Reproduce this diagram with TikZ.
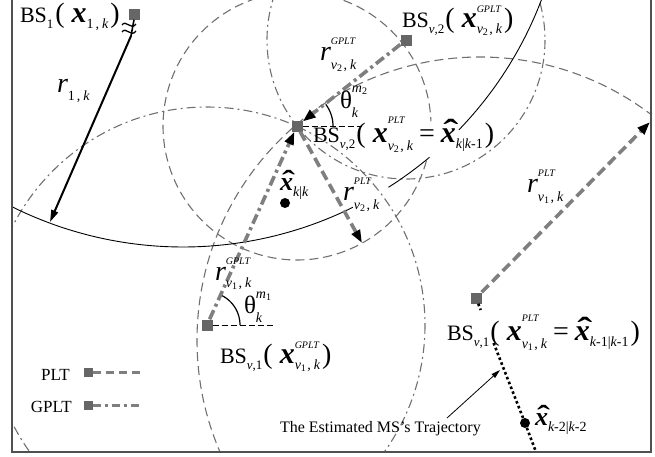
\documentclass[tikz,border=0pt]{standalone}
\usepackage{amsmath}
\usepackage{fontspec}
\setmainfont{Liberation Serif}
\usetikzlibrary{arrows.meta,calc}
\definecolor{sqgray}{HTML}{666666}
\definecolor{cgray}{HTML}{707070}
\definecolor{tgray}{HTML}{7F7F7F}
\definecolor{fgray}{HTML}{505050}
\newcommand\Fmain{\fontsize{22}{24}\selectfont}
\newcommand\Fbig{\fontsize{28}{30}\selectfont}
\newcommand\Frr{\fontsize{28}{30}\selectfont}
\newcommand\Fsup{\fontsize{10}{11}\selectfont\itshape}
\newcommand\Fsub{\fontsize{14}{15}\selectfont}
\newcommand\Fss{\fontsize{10}{10}\selectfont}
\newcommand\Fbs{\fontsize{13}{13}\selectfont}
\newcommand\BX{{\fontsize{30}{32}\selectfont\bfseries\itshape x}}
\newcommand\HXs[1]{{\fontsize{#1}{#1}\selectfont\rlap{\kern0.08em\scalebox{1.5}[1.1]{\bfseries ˆ}}\bfseries\itshape x}}
\newcommand\LP{{\Fbig(}\hspace{7pt}}
\newcommand\RP{\hspace{2pt}{\Fbig)}}
\newcommand\EQ{\hspace{6pt}{\Fbig=}\hspace{6pt}}
\newcommand\VK[1]{{\itshape v}\lower2.5pt\hbox{\Fss #1}\hspace{1.5pt},\hspace{3pt}{\itshape k}}
\newcommand\SupSub[4]{\leavevmode\setbox0=\hbox{#2}\setbox2=\hbox{#4}%
  \dimen0=\wd0 \ifdim\wd2>\dimen0 \dimen0=\wd2 \fi
  \rlap{\raise#1\box0}\rlap{\lower#3\box2}\kern\dimen0\relax}
\newcommand\BSsub[1]{BS\lower6pt\hbox{\Fbs\itshape v\upshape,#1}\hspace{1pt}}
\newcommand\KK[1]{\lower6pt\hbox{\Fsub #1}}
\begin{document}
\begin{tikzpicture}[x=1pt,y=-1pt,
  sq/.style={rectangle,fill=sqgray,draw=none,minimum size=11pt,inner sep=0pt},
  dotn/.style={circle,fill=black,minimum size=10pt,inner sep=0pt},
  thindash/.style={draw=cgray,line width=1.1pt,dash pattern=on 9pt off 5pt},
  thindashdot/.style={draw=cgray,line width=1.1pt,dash pattern=on 9pt off 4pt on 2pt off 4pt},
  solidarc/.style={draw=black,line width=0.9pt},
  thickdash/.style={draw=tgray,line width=3.6pt,dash pattern=on 10pt off 5pt},
  thickdashdot/.style={draw=tgray,line width=3.6pt,dash pattern=on 10pt off 4pt on 3pt off 4pt},
  tipA/.style={-{Triangle[length=13pt,width=9pt,color=black]}},
  refline/.style={draw=black,line width=0.8pt,dash pattern=on 6pt off 3pt},
  anglearc/.style={draw=black,line width=1.2pt},
  lbl/.style={anchor=base west,inner sep=0pt,outer sep=0pt},
  traj/.style={draw=black,line width=2.6pt,dash pattern=on 2.6pt off 2.6pt},
  frame/.style={draw=fgray,line width=1.5pt},
  legdash/.style={draw=tgray,line width=3pt,dash pattern=on 8pt off 5pt},
  legdashdot/.style={draw=tgray,line width=3pt,dash pattern=on 8pt off 4pt on 3pt off 4pt},
]
\useasboundingbox (0,0) rectangle (655,456);
% range circles
\begin{scope}
\clip (12,0) rectangle (651,452);
\draw[thindash] plot[domain=15:358,samples=160] ({297+134*cos(\x)},{126+134*sin(\x)});
\draw[thindash] (480,340) circle[radius=283];
\draw[thindashdot] (406,40) circle[radius=139];
\draw[thindashdot] (207,325) circle[radius=218];
\draw[solidarc] plot[domain=15:44,samples=40] ({183+383.5*cos(\x)},{-136.5+383.5*sin(\x)});
\draw[solidarc] plot[domain=50:57.6,samples=10] ({183+383.5*cos(\x)},{-136.5+383.5*sin(\x)});
\draw[solidarc] plot[domain=63.7:130,samples=80] ({183+383.5*cos(\x)},{-136.5+383.5*sin(\x)});
\end{scope}
\draw[frame] (12,0) -- (12,452) -- (651,452) -- (651,0);
% nodes
\node[sq] (bs1) at (134,14) {};
\node[sq] (bsv2g) at (406,40) {};
\node[sq] (bsv2p) at (297,126) {};
\node[sq] (bsv1g) at (207,325) {};
\node[sq] (bsv1p) at (476,298) {};
\node[dotn] (xkk) at (285,203) {};
\node[dotn] (xkm2) at (525,423) {};
\node[sq,minimum size=9pt] (lgp) at (88,372) {};
\node[sq,minimum size=9pt] (lgg) at (88,405) {};
\coordinate (lgpe) at (140,372);
\coordinate (lgge) at (140,405);
\coordinate (tv2) at (362,243);
\coordinate (tv1) at (650,122);
\coordinate (brk) at (131,36);
\coordinate (tip1) at (50,222);
\coordinate (h2) at (362,126);
\coordinate (h1) at (275,325);
\coordinate (tr1) at (480.7,310);
\coordinate (tr2) at (493.6,343);
\coordinate (tr3) at (536,452);
\coordinate (ta1) at (447,418);
\coordinate (ta2) at (500,370);
% angle marks
\draw[refline] (bsv2p.east) -- (h2);
\draw[refline] (bsv1g.east) -- (h1);
\draw[anglearc] plot[domain=0:-37,samples=20] ({297+36*cos(\x)},{126+36*sin(\x)});
\draw[anglearc] plot[domain=0:-63,samples=20] ({207+33*cos(\x)},{325+33*sin(\x)});
% r_{1,k}
\draw[line width=1.6pt] (bs1.south) -- (brk);
\draw[line width=1.3pt] (122,25) .. controls (126,19) and (131,31) .. (136,24);
\draw[line width=1.3pt] (122,32) .. controls (126,26) and (131,38) .. (136,31);
\draw[line width=2pt,-{Triangle[length=12pt,width=7pt]}] (brk) -- (tip1);
% thick range arrows
\draw[thickdashdot,tipA] (bsv2g) -- (bsv2p);
\draw[thickdashdot,tipA] (bsv1g) -- (bsv2p);
\draw[thickdash,tipA] (bsv2p) -- (tv2);
\draw[thickdash,tipA] (bsv1p) -- (tv1);
% trajectory
\draw[traj] (bsv1p) -- (tr1);
\draw[traj] (tr2) -- (xkm2);
\draw[traj] (xkm2) -- (tr3);
\draw[line width=0.8pt,-{Triangle[length=9pt,width=5pt]}] (ta1) -- (ta2);
% legend
\draw[legdash] (lgp.east) -- (lgpe);
\draw[legdashdot] (lgg.east) -- (lgge);
\node[anchor=base east,inner sep=0pt] (lt1) at (70,380) {\fontsize{17}{18}\selectfont PLT};
\node[anchor=base east,inner sep=0pt] (lt2) at (72,412) {\fontsize{17}{18}\selectfont GPLT};
% labels
\node[lbl] (tbs1) at (20,22) {\Fmain BS\lower6pt\hbox{\Fbs 1}\hspace{2pt}\LP\BX\KK{1\hspace{2pt},\hspace{3pt}\itshape k}\RP};
\node[lbl] (tv2g) at (402,27) {\Fmain \BSsub{2}\LP\BX\SupSub{15pt}{\Fsup GPLT}{6pt}{\Fsub\VK{2}}\RP};
\node[lbl] (tv2p) at (313,142) {\Fmain \BSsub{2}\LP\BX\SupSub{19pt}{\Fsup PLT}{8pt}{\Fsub\VK{2}}\EQ\HXs{30}\KK{\itshape k\upshape|\itshape k\upshape-1}\RP};
\node[lbl] (tv1g) at (220,363) {\Fmain \BSsub{1}\LP\BX\SupSub{15pt}{\Fsup GPLT}{6pt}{\Fsub\VK{1}}\RP};
\node[lbl] (tv1p) at (447,340) {\Fmain \BSsub{1}\LP\BX\SupSub{19pt}{\Fsup PLT}{8pt}{\Fsub\VK{1}}\EQ\HXs{30}\KK{\itshape k\upshape-1|\itshape k\upshape-1}\RP};
\node[lbl] (txkk) at (280,190) {\HXs{26}\KK{\itshape k\upshape|\itshape k}};
\node[lbl] (txkm2) at (535,425) {\HXs{26}\KK{\itshape k\upshape-2|\itshape k\upshape-2}};
\node[lbl] (tr1k) at (57,92) {{\Frr\itshape r}\lower8pt\hbox{\Fsub 1\hspace{2pt},\hspace{3pt}\itshape k}};
\node[lbl] (trv2g) at (320,60) {{\Frr\itshape r}\SupSub{16pt}{\Fsup GPLT}{9pt}{\Fsub\VK{2}}};
\node[lbl] (trv2p) at (343,200) {{\Frr\itshape r}\SupSub{16pt}{\Fsup PLT}{9pt}{\Fsub\VK{2}}};
\node[lbl] (trv1g) at (215,280) {{\Frr\itshape r}\SupSub{16pt}{\Fsup GPLT}{7pt}{\Fsub\VK{1}}};
\node[lbl] (trv1p) at (527,192) {{\Frr\itshape r}\SupSub{16pt}{\Fsup PLT}{9pt}{\Fsub\VK{1}}};
\node[lbl] (tth2) at (340,108) {{\fontsize{25}{27}\selectfont θ}\SupSub{16pt}{\Fsub\itshape m\lower2pt\hbox{\Fss\upshape 2}}{9pt}{\Fsub\itshape k}};
\node[lbl] (tth1) at (244,313) {{\fontsize{25}{27}\selectfont θ}\SupSub{15pt}{\Fsub\itshape m\lower2pt\hbox{\Fss\upshape 1}}{9pt}{\Fsub\itshape k}};
\node[lbl] (ttraj) at (280,432) {\fontsize{16}{18}\selectfont The Estimated MS’s Trajectory};
\end{tikzpicture}
\end{document}
